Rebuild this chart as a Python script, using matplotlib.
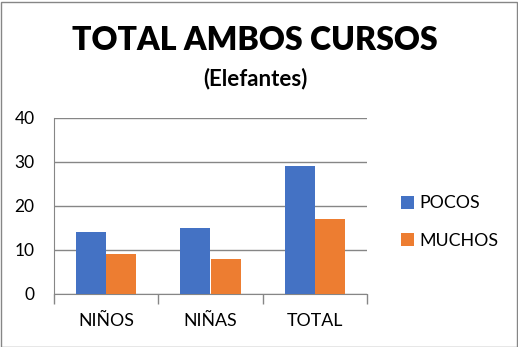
import numpy as np
import matplotlib.pyplot as plt
from matplotlib.patches import Rectangle

categories = ["NIÑOS", "NIÑAS", "TOTAL"]
pocos = [14, 15, 29]
muchos = [9, 8, 17]
series_names = ["POCOS", "MUCHOS"]
y_ticks = [0, 10, 20, 30, 40]

BLUE = "#4472C4"
ORANGE = "#ED7D31"
GRID = "#868686"

plt.rcParams["font.family"] = ["Lato", "DejaVu Sans"]

fig = plt.figure(figsize=(5.18, 3.47), dpi=100)
ax = fig.add_axes([54 / 518, 1 - 294 / 347, 313 / 518, 176 / 347])

x = np.arange(len(categories))
width = 0.29
b1 = ax.bar(x - width / 2, pocos, width, color=BLUE, label=series_names[0], zorder=3)
b2 = ax.bar(x + width / 2, muchos, width, color=ORANGE, label=series_names[1], zorder=3)

ax.set_xlim(-0.5, len(categories) - 0.5)
ax.set_ylim(0, 40)
ax.set_yticks(y_ticks)
ax.yaxis.grid(True, color=GRID, linewidth=1)
ax.set_axisbelow(True)

# category separators as tick marks below the axis
ax.set_xticks(np.arange(len(categories) + 1) - 0.5, minor=False)
ax.set_xticklabels([])
ax.set_xticks(x, minor=True)
ax.set_xticklabels(categories, minor=True, fontsize=12.8)
ax.tick_params(axis="x", which="major", length=7, color=GRID, width=1)
ax.tick_params(axis="x", which="minor", length=0, pad=14)
ax.tick_params(axis="y", length=0, labelsize=12.5, pad=14)

for side in ["top", "right"]:
    ax.spines[side].set_visible(False)
ax.spines["left"].set_color(GRID)
ax.spines["bottom"].set_color(GRID)

fig.text(0.4925, 1 - 41 / 347, "TOTAL AMBOS CURSOS", ha="center", va="center",
         fontsize=23, fontweight="heavy")
fig.text(0.4925, 1 - 79 / 347, "(Elefantes)", ha="center", va="center",
         fontsize=16, fontweight="bold")

fig.legend(handles=[b1, b2], loc="center left", bbox_to_anchor=(385 / 518, 1 - 222 / 347),
           frameon=False, fontsize=12.8, handlelength=0.75, handleheight=0.75,
           labelspacing=1.2, handletextpad=0.3)

fig.patches.append(Rectangle((0.5 / 518, 0.5 / 347), 1 - 2 / 518, 1 - 2 / 347,
                             transform=fig.transFigure, fill=False,
                             edgecolor=GRID, linewidth=1))

fig.savefig("out.png", dpi=100)
